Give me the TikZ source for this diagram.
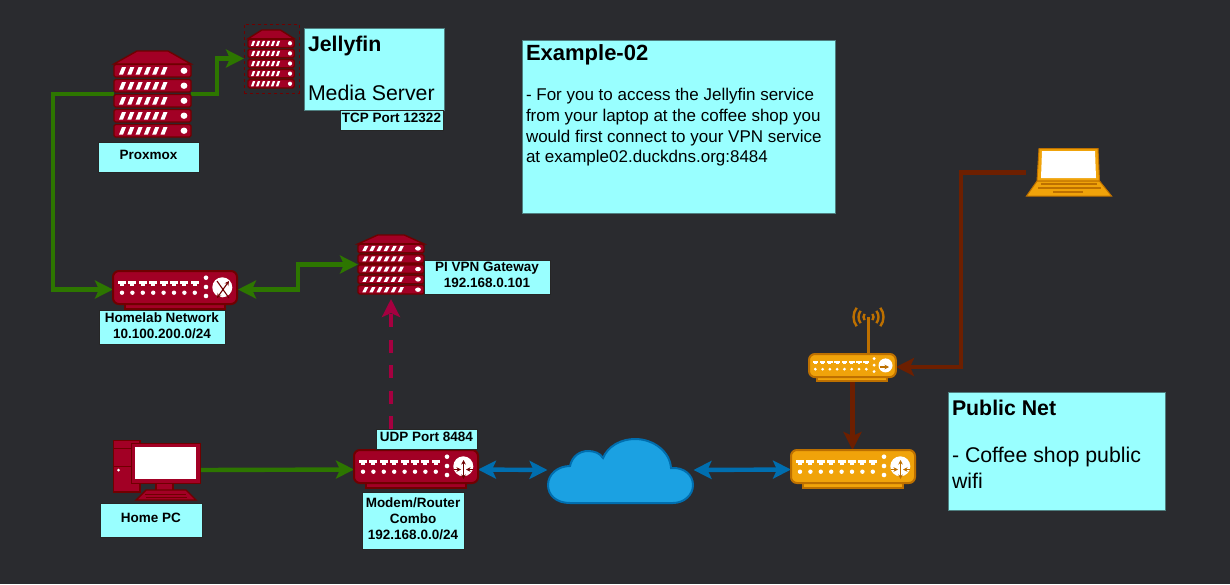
\documentclass[tikz,border=0pt]{standalone}
\usepackage{fontspec}
\setmainfont{Liberation Sans}
\usetikzlibrary{arrows.meta}
\definecolor{canvas}{HTML}{2A2B2F}
\definecolor{notecyan}{HTML}{99FFFF}
\definecolor{noteedge}{HTML}{4F7F80}
\definecolor{redfill}{HTML}{A20025}
\definecolor{redline}{HTML}{6F0000}
\definecolor{orangefill}{HTML}{F0A30A}
\definecolor{orangeline}{HTML}{BD7000}
\definecolor{greenlink}{HTML}{2D7600}
\definecolor{bluelink}{HTML}{006EAF}
\definecolor{cloudfill}{HTML}{1BA1E2}
\definecolor{brownlink}{HTML}{6D1F00}
\definecolor{vpnlink}{HTML}{A50040}
\newcommand{\notetext}[3]{\parbox[c][#1][t]{#2}{#3}}
\tikzset{
  spot/.style={inner sep=0pt, outer sep=0pt},
  note/.style={draw=noteedge, fill=notecyan, line width=1pt, inner sep=0pt, outer sep=0pt, align=left},
  tag/.style={draw=black!85, fill=notecyan, line width=1pt, inner sep=0pt, outer sep=0pt, align=center,
    text depth=3.5pt, font=\fontsize{13.5}{16}\selectfont\bfseries},
  link/.style={line width=4.4pt, ->},
  greenwire/.style={link, draw=greenlink},
  bluewire/.style={link, draw=bluelink},
  brownwire/.style={link, draw=brownlink},
  pics/rack/.style={code={
    \fill[redfill, draw=redline, line width=1.4pt] (0,13) -- (23,0) -- (54,0) -- (77,13) -- cycle;
    \foreach \y in {13.5,28.5,43.5,58.5,73.5} {
      \fill[redfill, draw=redline, line width=1.4pt, rounded corners=1.5pt] (0,\y) rectangle (77,\y+12.5);
      \foreach \i in {0,...,5}
        \fill[white] (5+8.3*\i,\y+10) -- (8+8.3*\i,\y+2.5) -- (12+8.3*\i,\y+2.5) -- (9+8.3*\i,\y+10) -- cycle;
      \fill[white] (70,\y+6.2) ellipse (3.4 and 3.2);
    }
  }},
  pics/switchbox/.style 2 args={code={
    \fill[#1, draw=#2, line width=2pt] (12,32) rectangle (112,38);
    \fill[#1, draw=#2, line width=2pt, rounded corners=6pt] (0,0) rectangle (124,33);
    \foreach \i in {0,...,7} {
      \fill[white] (5+10.4*\i,10) rectangle (13+10.4*\i,12.5);
      \fill[white] (7+10.4*\i,12) rectangle (11+10.4*\i,14.5);
      \fill[white] (9+10.4*\i,21.7) circle (2.2);
    }
    \foreach \y in {6.7,16,25} \fill[white] (93,\y) circle (2.3);
    \fill[white] (109.3,16.3) circle (10);
  }},
  tinytip/.style={line width=1.1pt, {Stealth[length=4.5pt,width=4.5pt]}-{Stealth[length=4.5pt,width=4.5pt]}},
  tinyarrow/.style={line width=1.1pt, -{Stealth[length=4.5pt,width=4.5pt]}},
}
\begin{document}
\begin{tikzpicture}[x=1pt, y=-1pt, >={Stealth[length=18pt,width=18pt,inset=4pt]}]
  \useasboundingbox (0,0) rectangle (1230,584);
  \fill[canvas] (0,0) rectangle (1230,584);

  % icon places
  \node[spot, minimum width=77, minimum height=86] (proxmox) at (152.5,94) {};
  \node[spot, minimum width=55, minimum height=69, draw=redline, dash pattern=on 3pt off 3pt, line width=0.8pt] (jellyfin) at (271.5,58.5) {};
  \node[spot, minimum width=125, minimum height=37] (homelab) at (175.5,289.5) {};
  \node[spot, minimum width=66, minimum height=59] (pivpn) at (391,264.5) {};
  \node[spot, minimum width=87, minimum height=60] (homepc) at (156.5,470) {};
  \node[spot, minimum width=124, minimum height=39] (router) at (416,469.5) {};
  \node[spot, minimum width=146, minimum height=65] (cloud) at (620.5,470) {};
  \node[spot, minimum width=123, minimum height=39] (shoprouter) at (852.5,469.5) {};
  \node[spot, minimum width=87, minimum height=26] (shopap) at (852.5,367) {};
  \node[spot, minimum width=86, minimum height=49] (laptop) at (1069,172.5) {};

  % wires
  \draw[greenwire] (proxmox.west) -- ++(-61,0) |- (homelab.west);
  \draw[greenwire] (proxmox.east) -- ++(26,0) |- (jellyfin.west);
  \draw[greenwire, <->] (homelab.east) -- ++(60,0) |- (pivpn.west);
  \draw[greenwire] (homepc.east) -- (router.west);
  \draw[bluewire, <->] (router.east) -- (cloud.west);
  \draw[bluewire, <->] (cloud.east) -- (shoprouter.west);
  \draw[brownwire] (laptop.west) -- ++(-65,0) |- (shopap.east);
  \draw[brownwire] (shopap.south) -- (shoprouter.north);

  % racks
  \pic at (proxmox.north west) {rack};
  \pic[xscale=0.6, yscale=0.674] at ([shift={(4,6)}]jellyfin.north west) {rack};
  \pic[xscale=0.857, yscale=0.686] at (pivpn.north west) {rack};

  % switches
  \pic at (homelab.north west) {switchbox={redfill}{redline}};
  \draw[redline, tinytip] (217,281) -- (229,298) (229,281) -- (217,298);
  \pic at (router.north west) {switchbox={redfill}{redline}};
  \draw[redline, tinytip] (463.5,460) -- (463.5,479);
  \draw[redline, tinyarrow] (454,469.5) -- (461,469.5);
  \draw[redline, tinyarrow] (473,469.5) -- (466,469.5);
  \pic at (shoprouter.north west) {switchbox={orangefill}{orangeline}};
  \draw[orangeline, tinytip] (900.5,460) -- (900.5,479);
  \draw[orangeline, tinyarrow] (891,469.5) -- (898,469.5);
  \draw[orangeline, tinyarrow] (910,469.5) -- (903,469.5);
  \draw[orangeline, line width=3pt] (868.5,354) -- (868.5,317);
  \foreach \r in {5,10,15} {
    \draw[orangeline, line width=2.4pt] (868.5,317) ++(-38:\r) arc[start angle=-38, end angle=38, radius=\r];
    \draw[orangeline, line width=2.4pt] (868.5,317) ++(142:\r) arc[start angle=142, end angle=218, radius=\r];
  }
  \pic[scale=0.7] at (shopap.north west) {switchbox={orangefill}{orangeline}};
  \draw[orangeline, tinyarrow] (880,367) -- (889,367);

  % home pc
  \fill[redfill, draw=redline, line width=1.4pt] (113.5,440.5) rectangle (140,492);
  \draw[redline, line width=1pt] (113.5,448.5) -- (131,448.5) (113.5,466) -- (131,466);
  \fill[white] (118.5,470) circle (1.5);
  \fill[redfill, draw=redline, line width=1.4pt] (156,483) rectangle (173,491);
  \fill[redfill, draw=redline, line width=1.4pt] (146,490) -- (186,490) -- (196,500) -- (136,500) -- cycle;
  \draw[redline, line width=1pt] (145,494) -- (186,494) (146,497) -- (187,497);
  \fill[white, draw=redfill, line width=3.5pt] (133,445) rectangle (198,481);
  \draw[redline, line width=1pt] (131,443) rectangle (200,483);

  % cloud
  \fill[cloudfill, draw=bluelink, line width=2pt] (570,503) .. controls (556,503) and (548,495) .. (548,485)
    .. controls (548,474) and (558,466) .. (570,466) .. controls (572,456) and (580,451) .. (588,451)
    .. controls (594,451) and (600,453) .. (603,458) .. controls (608,446) and (621,439) .. (635,439)
    .. controls (654,439) and (670,452) .. (671,468) .. controls (684,467) and (693,475) .. (693,485)
    .. controls (693,495) and (684,503) .. (673,503) -- cycle;

  % laptop
  \fill[orangefill, draw=orangeline, line width=1pt] (1039,148.5) -- (1098,148.5) -- (1099.5,181) -- (1037,181) -- cycle;
  \fill[orangefill, draw=orangeline, line width=1pt] (1037,181) -- (1099.5,181) -- (1111.5,196) -- (1026.5,196) -- cycle;
  \fill[white] (1042,151) -- (1095,151) -- (1096,178) -- (1041,178) -- cycle;
  \draw[orangeline, line width=1.3pt] (1041,184) -- (1097,184) (1038,188) -- (1101,188) (1053,192) -- (1083,192);

  % labels
  \node[tag, minimum width=101, minimum height=30] (proxmoxtag) at (148.5,157) {Proxmox};
  \node[note, minimum width=140, minimum height=82] (jellyfinnote) at (374,69) {\notetext{82pt}{132pt}{\fontsize{21.3}{23.3}\selectfont
    \vspace*{8pt}{\bfseries Jellyfin}\\[25.3pt]Media Server}};
  \node[tag, minimum width=103, minimum height=20] (tcptag) at (391.5,120) {TCP Port 12322};
  \node[tag, minimum width=126, minimum height=34] (homelabtag) at (162,327) {Homelab Network\\10.100.200.0/24};
  \node[tag, minimum width=126, minimum height=34] (pivpntag) at (487,277) {PI VPN Gateway\\192.168.0.101};
  \node[tag, minimum width=102, minimum height=34] (homepctag) at (151,520) {Home PC};
  \node[tag, minimum width=101, minimum height=20] (udptag) at (426.5,439) {UDP Port 8484};
  \node[tag, minimum width=102, minimum height=57] (routertag) at (413,520.5) {Modem/Router\\Combo\\192.168.0.0/24};
  \node[note, minimum width=313, minimum height=173] (examplenote) at (678.5,126.5) {\notetext{173pt}{305pt}{\fontsize{17}{20.7}\selectfont
    \vspace*{5pt}{\fontsize{22}{20.7}\selectfont\bfseries Example-02}\\[19pt]- For you to access the Jellyfin service\\from your laptop at the coffee shop you\\would first connect to your VPN service\\at example02.duckdns.org:8484}};
  \node[note, minimum width=217, minimum height=118] (publicnote) at (1056.5,451) {\notetext{118pt}{209pt}{\fontsize{21.3}{25.5}\selectfont
    \vspace*{8pt}{\bfseries Public Net}\\[22pt]- Coffee shop public\\wifi}};

  % vpn path
  \draw[link, draw=vpnlink, dash pattern=on 13pt off 12.5pt, shorten >=5pt] (udptag.north -| pivpn.south) -- (pivpn.south);
\end{tikzpicture}
\end{document}
